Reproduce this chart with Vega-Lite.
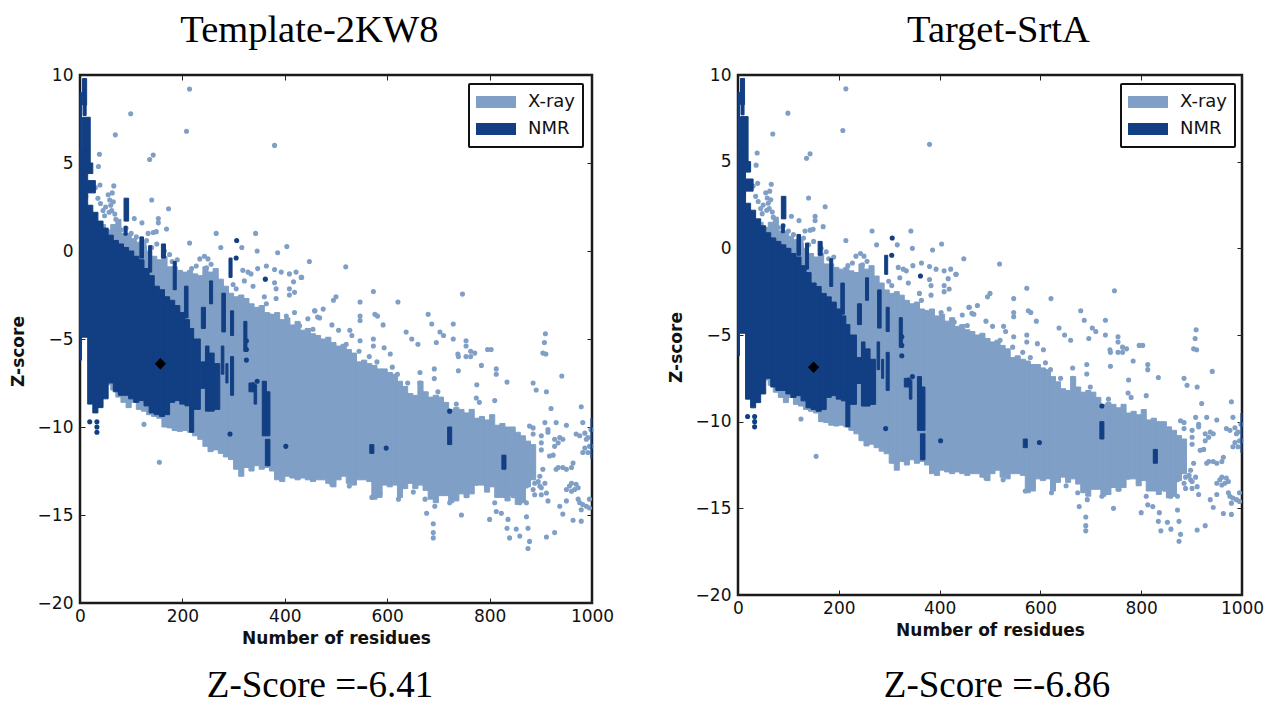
{"$schema":"https://vega.github.io/schema/vega-lite/v6.json","background":"white","padding":{"left":7,"top":11,"right":5,"bottom":2},"spacing":50,
"resolve":{"scale":{"color":"independent","stroke":"independent"},"legend":{"color":"independent"}},
"config":{"view":{"stroke":"#1a1a1a","strokeWidth":2.5},"font":"DejaVu Sans",
"axis":{"grid":false,"domain":false,"tickColor":"#222","tickSize":-5,"labelFontSize":17,"labelColor":"#111","labelPadding":12,"labelFlush":false,"format":"d","titleFontSize":17,"titleFontWeight":"bold","titleColor":"#111"},
"legend":{"orient":"none","fillColor":"white","strokeColor":"#111","strokeWidth":2,"padding":7,"cornerRadius":1,"labelFontSize":18,"labelColor":"#111","labelOffset":12,"title":null,"rowPadding":5,"clipHeight":22,"symbolStrokeWidth":0}},
"datasets":{
"bands":[
{"type":"X-ray","from":40,"to":50,"high":1.5,"low":-8},{"type":"X-ray","from":50,"to":60,"high":1.2,"low":-7.6},{"type":"X-ray","from":60,"to":70,"high":1.5,"low":-7.9},{"type":"X-ray","from":70,"to":80,"high":1.8,"low":-8.3},{"type":"X-ray","from":80,"to":90,"high":1,"low":-8.6},{"type":"X-ray","from":90,"to":100,"high":1,"low":-8.9},{"type":"X-ray","from":100,"to":110,"high":0.7,"low":-8.6},{"type":"X-ray","from":110,"to":120,"high":0.5,"low":-9},{"type":"X-ray","from":120,"to":130,"high":0.3,"low":-9.1},{"type":"X-ray","from":130,"to":140,"high":0,"low":-9.3},{"type":"X-ray","from":140,"to":150,"high":-0.3,"low":-9.4},{"type":"X-ray","from":150,"to":160,"high":-0.5,"low":-9.5},{"type":"X-ray","from":160,"to":170,"high":-0.3,"low":-10},{"type":"X-ray","from":170,"to":180,"high":-0.9,"low":-10.05},{"type":"X-ray","from":180,"to":190,"high":-0.9,"low":-10.2},{"type":"X-ray","from":190,"to":200,"high":-1.1,"low":-10.25},{"type":"X-ray","from":200,"to":210,"high":-1.2,"low":-10.2},{"type":"X-ray","from":210,"to":220,"high":-1.1,"low":-10.3},{"type":"X-ray","from":220,"to":230,"high":-1.3,"low":-10.5},{"type":"X-ray","from":230,"to":240,"high":-1.4,"low":-10.7},{"type":"X-ray","from":240,"to":250,"high":-0.9,"low":-11.1},{"type":"X-ray","from":250,"to":260,"high":-1.2,"low":-11.4},{"type":"X-ray","from":260,"to":270,"high":-1,"low":-11.3},{"type":"X-ray","from":270,"to":280,"high":-1.6,"low":-11.5},{"type":"X-ray","from":280,"to":290,"high":-2,"low":-11.7},{"type":"X-ray","from":290,"to":300,"high":-2.4,"low":-11.85},{"type":"X-ray","from":300,"to":310,"high":-2.6,"low":-12.4},{"type":"X-ray","from":310,"to":320,"high":-2.5,"low":-12.8},{"type":"X-ray","from":320,"to":330,"high":-2.7,"low":-12.3},{"type":"X-ray","from":330,"to":340,"high":-3,"low":-12.5},{"type":"X-ray","from":340,"to":350,"high":-3.2,"low":-12.2},{"type":"X-ray","from":350,"to":360,"high":-3.1,"low":-12.4},{"type":"X-ray","from":360,"to":370,"high":-3.5,"low":-12.3},{"type":"X-ray","from":370,"to":380,"high":-3.6,"low":-12.5},{"type":"X-ray","from":380,"to":390,"high":-3.5,"low":-13},{"type":"X-ray","from":390,"to":400,"high":-3.9,"low":-13.1},{"type":"X-ray","from":400,"to":410,"high":-3.8,"low":-12.8},{"type":"X-ray","from":410,"to":420,"high":-4.2,"low":-12.9},{"type":"X-ray","from":420,"to":430,"high":-4,"low":-13},{"type":"X-ray","from":430,"to":440,"high":-4.5,"low":-12.9},{"type":"X-ray","from":440,"to":450,"high":-4.4,"low":-13},{"type":"X-ray","from":450,"to":460,"high":-4.7,"low":-13.1},{"type":"X-ray","from":460,"to":470,"high":-4.8,"low":-13},{"type":"X-ray","from":470,"to":480,"high":-5,"low":-13},{"type":"X-ray","from":480,"to":490,"high":-4.9,"low":-13.2},{"type":"X-ray","from":490,"to":500,"high":-5.2,"low":-13.4},{"type":"X-ray","from":500,"to":510,"high":-5.4,"low":-13},{"type":"X-ray","from":510,"to":520,"high":-5.3,"low":-12.8},{"type":"X-ray","from":520,"to":530,"high":-5.6,"low":-13.2},{"type":"X-ray","from":530,"to":540,"high":-5.8,"low":-13.3},{"type":"X-ray","from":540,"to":550,"high":-6.3,"low":-13},{"type":"X-ray","from":550,"to":560,"high":-6.2,"low":-13},{"type":"X-ray","from":560,"to":570,"high":-6.4,"low":-13.1},{"type":"X-ray","from":570,"to":580,"high":-6.5,"low":-14.1},{"type":"X-ray","from":580,"to":590,"high":-6.7,"low":-14},{"type":"X-ray","from":590,"to":600,"high":-6.7,"low":-13.3},{"type":"X-ray","from":600,"to":610,"high":-6.9,"low":-13.4},{"type":"X-ray","from":610,"to":620,"high":-7,"low":-13.3},{"type":"X-ray","from":620,"to":630,"high":-7.4,"low":-14},{"type":"X-ray","from":630,"to":640,"high":-7.7,"low":-13.5},{"type":"X-ray","from":640,"to":650,"high":-8.1,"low":-13.2},{"type":"X-ray","from":650,"to":660,"high":-8.2,"low":-13.5},{"type":"X-ray","from":660,"to":670,"high":-7.4,"low":-13.3},{"type":"X-ray","from":670,"to":680,"high":-8,"low":-13.6},{"type":"X-ray","from":680,"to":690,"high":-8.3,"low":-14.1},{"type":"X-ray","from":690,"to":700,"high":-8.2,"low":-14.3},{"type":"X-ray","from":700,"to":710,"high":-8.3,"low":-13.9},{"type":"X-ray","from":710,"to":720,"high":-8.6,"low":-13.9},{"type":"X-ray","from":720,"to":730,"high":-9,"low":-14.3},{"type":"X-ray","from":730,"to":740,"high":-8.9,"low":-14.2},{"type":"X-ray","from":740,"to":750,"high":-9,"low":-13.8},{"type":"X-ray","from":750,"to":760,"high":-9.2,"low":-14},{"type":"X-ray","from":760,"to":770,"high":-9,"low":-13.8},{"type":"X-ray","from":770,"to":780,"high":-9.5,"low":-13.3},{"type":"X-ray","from":780,"to":790,"high":-9.4,"low":-13.3},{"type":"X-ray","from":790,"to":800,"high":-9.6,"low":-13.7},{"type":"X-ray","from":800,"to":810,"high":-9.3,"low":-13.4},{"type":"X-ray","from":810,"to":820,"high":-9.9,"low":-14},{"type":"X-ray","from":820,"to":830,"high":-9.8,"low":-14},{"type":"X-ray","from":830,"to":840,"high":-10,"low":-14.2},{"type":"X-ray","from":840,"to":850,"high":-10,"low":-13.9},{"type":"X-ray","from":850,"to":860,"high":-10.3,"low":-14.4},{"type":"X-ray","from":860,"to":870,"high":-10.5,"low":-14.3},{"type":"X-ray","from":870,"to":880,"high":-10.8,"low":-13.4},{"type":"X-ray","from":880,"to":890,"high":-11,"low":-13},
{"type":"NMR","from":0,"to":3,"high":9,"low":-6.2},{"type":"NMR","from":5,"to":13,"high":9.8,"low":8.3},{"type":"NMR","from":6,"to":12,"high":8.4,"low":7.7},{"type":"NMR","from":5,"to":20,"high":7.6,"low":5.8},{"type":"NMR","from":0,"to":20,"high":5.8,"low":4.4},{"type":"NMR","from":20,"to":25,"high":5,"low":4.4},{"type":"NMR","from":0,"to":15,"high":4.4,"low":3},{"type":"NMR","from":15,"to":30,"high":4,"low":3.3},{"type":"NMR","from":0,"to":15,"high":3.2,"low":-4.9},{"type":"NMR","from":15,"to":25,"high":2.6,"low":-8.7},{"type":"NMR","from":25,"to":35,"high":2.2,"low":-9.2},{"type":"NMR","from":35,"to":45,"high":1.7,"low":-8.9},{"type":"NMR","from":45,"to":55,"high":1.3,"low":-8.4},{"type":"NMR","from":55,"to":65,"high":0.9,"low":-7.5},{"type":"NMR","from":65,"to":75,"high":0.6,"low":-8},{"type":"NMR","from":75,"to":85,"high":0.4,"low":-8.2},{"type":"NMR","from":85,"to":95,"high":0.2,"low":-8.2},{"type":"NMR","from":95,"to":105,"high":0,"low":-8.4},{"type":"NMR","from":105,"to":115,"high":-0.3,"low":-8.6},{"type":"NMR","from":115,"to":125,"high":-0.5,"low":-8.5},{"type":"NMR","from":125,"to":135,"high":-1,"low":-8.8},{"type":"NMR","from":135,"to":145,"high":-1.4,"low":-9.2},{"type":"NMR","from":145,"to":155,"high":-2,"low":-9.3},{"type":"NMR","from":155,"to":165,"high":-2.2,"low":-9.4},{"type":"NMR","from":165,"to":175,"high":-2.6,"low":-9.3},{"type":"NMR","from":175,"to":185,"high":-2.8,"low":-8.6},{"type":"NMR","from":185,"to":195,"high":-3.1,"low":-8.5},{"type":"NMR","from":195,"to":205,"high":-3.5,"low":-8.7},{"type":"NMR","from":205,"to":214,"high":-3.9,"low":-8.8},{"type":"NMR","from":214,"to":222,"high":-4.4,"low":-10.3},{"type":"NMR","from":222,"to":235,"high":-5,"low":-9},
{"type":"NMR","from":86,"to":95,"high":3,"low":1.7},{"type":"NMR","from":86,"to":92,"high":1.4,"low":0.9},{"type":"NMR","from":117,"to":124,"high":0.8,"low":-0.4},{"type":"NMR","from":134,"to":140,"high":0.3,"low":-1.2},{"type":"NMR","from":159,"to":167,"high":0.4,"low":-0.4},{"type":"NMR","from":182,"to":188,"high":-0.6,"low":-2.2},{"type":"NMR","from":204,"to":211,"high":-2,"low":-3.8},{"type":"NMR","from":253,"to":259,"high":-1.7,"low":-3},{"type":"NMR","from":277,"to":284,"high":-2.4,"low":-4.6},{"type":"NMR","from":294,"to":300,"high":-3.4,"low":-4.8},{"type":"NMR","from":291,"to":297,"high":-0.4,"low":-1.5},{"type":"NMR","from":237,"to":245,"high":-3.2,"low":-4.4},{"type":"NMR","from":320,"to":326,"high":-4,"low":-5.7},
{"type":"NMR","from":245,"to":252,"high":-5.4,"low":-9.1},{"type":"NMR","from":252,"to":262,"high":-5.8,"low":-9.1},{"type":"NMR","from":262,"to":273,"high":-6.4,"low":-9},{"type":"NMR","from":236,"to":245,"high":-6.3,"low":-7.8},{"type":"NMR","from":276,"to":281,"high":-5.4,"low":-7},{"type":"NMR","from":285,"to":289,"high":-6.4,"low":-7.5},{"type":"NMR","from":294,"to":300,"high":-6,"low":-8.2},{"type":"NMR","from":330,"to":340,"high":-7.5,"low":-8},{"type":"NMR","from":340,"to":345,"high":-7.6,"low":-8.7},{"type":"NMR","from":356,"to":364,"high":-7.4,"low":-10.5},{"type":"NMR","from":364,"to":371,"high":-8,"low":-10.5},{"type":"NMR","from":362,"to":371,"high":-10.7,"low":-12.2},{"type":"NMR","from":566,"to":574,"high":-11,"low":-11.5},{"type":"NMR","from":718,"to":726,"high":-10,"low":-11},{"type":"NMR","from":824,"to":832,"high":-11.6,"low":-12.4},{"type":"NMR","from":998,"to":1000,"high":-9.5,"low":-11.8}
],
"dots":[
{"type":"X-ray","x":214,"z":9.2},{"type":"X-ray","x":99,"z":7.8},{"type":"X-ray","x":69,"z":6.6},{"type":"X-ray","x":208,"z":6.8},{"type":"X-ray","x":380,"z":6},{"type":"X-ray","x":38,"z":5.5},{"type":"X-ray","x":143,"z":5.45},{"type":"X-ray","x":136,"z":5.2},{"type":"X-ray","x":36,"z":4.8},{"type":"X-ray","x":66,"z":3.7},{"type":"X-ray","x":39,"z":3.75},{"type":"X-ray","x":140,"z":2.9},{"type":"X-ray","x":173,"z":2.4},{"type":"X-ray","x":106,"z":1.85},{"type":"X-ray","x":121,"z":1.6},{"type":"X-ray","x":153,"z":1.85},{"type":"X-ray","x":153,"z":1.6},{"type":"X-ray","x":169,"z":1.25},{"type":"X-ray","x":149,"z":1.1},{"type":"X-ray","x":133,"z":1},{"type":"X-ray","x":143,"z":1.05},{"type":"X-ray","x":266,"z":1},{"type":"X-ray","x":343,"z":1},{"type":"X-ray","x":214,"z":0.45},{"type":"X-ray","x":275,"z":0.2},{"type":"X-ray","x":316,"z":0.2},{"type":"X-ray","x":346,"z":0},{"type":"X-ray","x":404,"z":0.25},{"type":"X-ray","x":386,"z":-0.1},{"type":"X-ray","x":448,"z":-0.6},
{"type":"X-ray","x":55,"z":3.2},{"type":"X-ray","x":58,"z":2.9},{"type":"X-ray","x":60,"z":2.6},{"type":"X-ray","x":62,"z":2.3},{"type":"X-ray","x":65,"z":2.8},{"type":"X-ray","x":68,"z":2.1},{"type":"X-ray","x":70,"z":1.8},{"type":"X-ray","x":57,"z":2.2},{"type":"X-ray","x":63,"z":3.3},{"type":"X-ray","x":30,"z":3.6},{"type":"X-ray","x":35,"z":3},{"type":"X-ray","x":40,"z":2.7},{"type":"X-ray","x":45,"z":2.3},{"type":"X-ray","x":50,"z":2.5},{"type":"X-ray","x":48,"z":2},{"type":"X-ray","x":75,"z":1.5},{"type":"X-ray","x":80,"z":1.2},{"type":"X-ray","x":90,"z":1.3},{"type":"X-ray","x":100,"z":1},{"type":"X-ray","x":110,"z":0.8},{"type":"X-ray","x":115,"z":0.3},{"type":"X-ray","x":125,"z":0.4},{"type":"X-ray","x":130,"z":0.6},{"type":"X-ray","x":140,"z":0.2},{"type":"X-ray","x":150,"z":0.4},{"type":"X-ray","x":165,"z":0},{"type":"X-ray","x":175,"z":-0.2},{"type":"X-ray","x":180,"z":-0.6},{"type":"X-ray","x":190,"z":-0.5},
{"type":"X-ray","x":234,"z":-0.45},{"type":"X-ray","x":243,"z":-0.3},{"type":"X-ray","x":250,"z":-0.45},{"type":"X-ray","x":256,"z":-0.75},{"type":"X-ray","x":247,"z":-0.95},{"type":"X-ray","x":227,"z":-0.85},{"type":"X-ray","x":218,"z":-1},{"type":"X-ray","x":318,"z":-1.1},{"type":"X-ray","x":328,"z":-1.2},{"type":"X-ray","x":334,"z":-1.3},{"type":"X-ray","x":347,"z":-1},{"type":"X-ray","x":364,"z":-0.85},{"type":"X-ray","x":380,"z":-1.05},{"type":"X-ray","x":393,"z":-1.2},{"type":"X-ray","x":409,"z":-1.3},{"type":"X-ray","x":422,"z":-1.2},{"type":"X-ray","x":432,"z":-1.5},{"type":"X-ray","x":417,"z":-1.75},{"type":"X-ray","x":380,"z":-1.8},{"type":"X-ray","x":383,"z":-2.15},{"type":"X-ray","x":409,"z":-2.15},{"type":"X-ray","x":419,"z":-2.35},{"type":"X-ray","x":383,"z":-2.7},{"type":"X-ray","x":360,"z":-2.6},{"type":"X-ray","x":364,"z":-3},{"type":"X-ray","x":338,"z":-2},{"type":"X-ray","x":321,"z":-1.7},{"type":"X-ray","x":299,"z":-1.9},{"type":"X-ray","x":305,"z":-2.15},{"type":"X-ray","x":409,"z":-2.5},{"type":"X-ray","x":458,"z":-3.4},{"type":"X-ray","x":464,"z":-3.75},{"type":"X-ray","x":445,"z":-3.85},{"type":"X-ray","x":419,"z":-3.5},{"type":"X-ray","x":403,"z":-3.7},{"type":"X-ray","x":390,"z":-4.05},{"type":"X-ray","x":373,"z":-3.7},{"type":"X-ray","x":429,"z":-4.25},{"type":"X-ray","x":455,"z":-4.45},
{"type":"X-ray","x":519,"z":-0.9},{"type":"X-ray","x":433,"z":-1.5},{"type":"X-ray","x":573,"z":-2.3},{"type":"X-ray","x":747,"z":-2.45},{"type":"X-ray","x":621,"z":-2.9},{"type":"X-ray","x":547,"z":-2.9},{"type":"X-ray","x":495,"z":-2.8},{"type":"X-ray","x":500,"z":-2.6},{"type":"X-ray","x":680,"z":-3.6},{"type":"X-ray","x":547,"z":-3.7},{"type":"X-ray","x":547,"z":-3.95},{"type":"X-ray","x":576,"z":-3.6},{"type":"X-ray","x":581,"z":-3.7},{"type":"X-ray","x":729,"z":-4.15},{"type":"X-ray","x":687,"z":-4.15},{"type":"X-ray","x":637,"z":-4.6},{"type":"X-ray","x":592,"z":-4.2},{"type":"X-ray","x":703,"z":-4.6},{"type":"X-ray","x":710,"z":-4.8},{"type":"X-ray","x":729,"z":-5},{"type":"X-ray","x":754,"z":-5.1},{"type":"X-ray","x":648,"z":-5},{"type":"X-ray","x":660,"z":-5.3},{"type":"X-ray","x":696,"z":-5.2},{"type":"X-ray","x":909,"z":-4.7},{"type":"X-ray","x":907,"z":-5.2},{"type":"X-ray","x":904,"z":-5.8},{"type":"X-ray","x":910,"z":-5.85},{"type":"X-ray","x":796,"z":-5.6},{"type":"X-ray","x":763,"z":-5.7},{"type":"X-ray","x":763,"z":-6},{"type":"X-ray","x":754,"z":-5.4},{"type":"X-ray","x":738,"z":-5.85},{"type":"X-ray","x":606,"z":-5.85},{"type":"X-ray","x":573,"z":-5.4},{"type":"X-ray","x":573,"z":-5},{"type":"X-ray","x":594,"z":-5.5},{"type":"X-ray","x":459,"z":-3.4},{"type":"X-ray","x":475,"z":-3.3},{"type":"X-ray","x":468,"z":-3.8},{"type":"X-ray","x":492,"z":-4.2},{"type":"X-ray","x":505,"z":-4.5},{"type":"X-ray","x":527,"z":-4.5},{"type":"X-ray","x":531,"z":-4.8},{"type":"X-ray","x":547,"z":-5.1},{"type":"X-ray","x":520,"z":-5.3},{"type":"X-ray","x":545,"z":-5.7},{"type":"X-ray","x":565,"z":-6},{"type":"X-ray","x":580,"z":-6.3},{"type":"X-ray","x":610,"z":-6.6},{"type":"X-ray","x":620,"z":-7},{"type":"X-ray","x":640,"z":-7.5},
{"type":"X-ray","x":692,"z":-6.7},{"type":"X-ray","x":692,"z":-7.25},{"type":"X-ray","x":739,"z":-6.8},{"type":"X-ray","x":739,"z":-6},{"type":"X-ray","x":754,"z":-6},{"type":"X-ray","x":771,"z":-5.8},{"type":"X-ray","x":803,"z":-5.6},{"type":"X-ray","x":813,"z":-6.7},{"type":"X-ray","x":813,"z":-7},{"type":"X-ray","x":784,"z":-6.5},{"type":"X-ray","x":834,"z":-7.45},{"type":"X-ray","x":775,"z":-7.6},{"type":"X-ray","x":941,"z":-7.1},{"type":"X-ray","x":885,"z":-7.5},{"type":"X-ray","x":891,"z":-7.9},{"type":"X-ray","x":911,"z":-8},{"type":"X-ray","x":920,"z":-8.95},{"type":"X-ray","x":979,"z":-8.85},{"type":"X-ray","x":810,"z":-8.5},{"type":"X-ray","x":774,"z":-8.35},{"type":"X-ray","x":780,"z":-8.6},{"type":"X-ray","x":735,"z":-8.7},{"type":"X-ray","x":699,"z":-8},{"type":"X-ray","x":664,"z":-6.9},{"type":"X-ray","x":664,"z":-7.5},
{"type":"X-ray","x":885,"z":-10.05},{"type":"X-ray","x":901,"z":-10.5},{"type":"X-ray","x":914,"z":-10.15},{"type":"X-ray","x":930,"z":-9.75},{"type":"X-ray","x":950,"z":-9.9},{"type":"X-ray","x":982,"z":-9.75},{"type":"X-ray","x":908,"z":-9.75},{"type":"X-ray","x":924,"z":-11.6},{"type":"X-ray","x":934,"z":-10.9},{"type":"X-ray","x":943,"z":-10.7},{"type":"X-ray","x":969,"z":-10.4},{"type":"X-ray","x":989,"z":-10.7},{"type":"X-ray","x":995,"z":-11.1},{"type":"X-ray","x":982,"z":-11.45},{"type":"X-ray","x":963,"z":-12.05},{"type":"X-ray","x":930,"z":-12.4},{"type":"X-ray","x":950,"z":-12.4},{"type":"X-ray","x":898,"z":-12.8},{"type":"X-ray","x":885,"z":-12.2},{"type":"X-ray","x":878,"z":-11.6},{"type":"X-ray","x":872,"z":-13},{"type":"X-ray","x":885,"z":-13.55},{"type":"X-ray","x":898,"z":-13.35},{"type":"X-ray","x":911,"z":-13.75},{"type":"X-ray","x":956,"z":-13.35},{"type":"X-ray","x":969,"z":-13.25},{"type":"X-ray","x":950,"z":-13.55},{"type":"X-ray","x":937,"z":-14.5},{"type":"X-ray","x":914,"z":-14.2},{"type":"X-ray","x":950,"z":-14.2},{"type":"X-ray","x":976,"z":-14.3},{"type":"X-ray","x":989,"z":-14.5},{"type":"X-ray","x":979,"z":-15.35},{"type":"X-ray","x":963,"z":-15.3},{"type":"X-ray","x":943,"z":-14.95},{"type":"X-ray","x":927,"z":-16},{"type":"X-ray","x":911,"z":-16.25},{"type":"X-ray","x":875,"z":-16.9},{"type":"X-ray","x":878,"z":-16.5},{"type":"X-ray","x":859,"z":-16.2},{"type":"X-ray","x":839,"z":-16.3},{"type":"X-ray","x":834,"z":-15.75},{"type":"X-ray","x":852,"z":-15.8},{"type":"X-ray","x":875,"z":-15.75},{"type":"X-ray","x":872,"z":-15.1},{"type":"X-ray","x":836,"z":-15.25},{"type":"X-ray","x":823,"z":-14.9},{"type":"X-ray","x":800,"z":-15.25},{"type":"X-ray","x":813,"z":-14.8},{"type":"X-ray","x":810,"z":-14.3},{"type":"X-ray","x":745,"z":-15},{"type":"X-ray","x":690,"z":-15.5},{"type":"X-ray","x":690,"z":-16},{"type":"X-ray","x":690,"z":-16.3},{"type":"X-ray","x":677,"z":-14.9},{"type":"X-ray","x":693,"z":-14.5},{"type":"X-ray","x":674,"z":-14.1},{"type":"X-ray","x":570,"z":-14},{"type":"X-ray","x":586,"z":-13.75},{"type":"X-ray","x":622,"z":-14.1},{"type":"X-ray","x":651,"z":-13.7},{"type":"X-ray","x":526,"z":-13.35},{"type":"X-ray","x":492,"z":-13.25},{"type":"X-ray","x":859,"z":-14.3},{"type":"X-ray","x":846,"z":-13.9},{"type":"X-ray","x":826,"z":-13.55},{"type":"X-ray","x":774,"z":-13.2},{"type":"X-ray","x":755,"z":-13.9},{"type":"X-ray","x":722,"z":-14.3},{"type":"X-ray","x":709,"z":-13.75},{"type":"X-ray","x":125,"z":-9.85},{"type":"X-ray","x":155,"z":-12},
{"type":"X-ray","x":888,"z":-13.2},{"type":"X-ray","x":895,"z":-13.1},{"type":"X-ray","x":901,"z":-13.45},{"type":"X-ray","x":908,"z":-13.2},{"type":"X-ray","x":888,"z":-13.85},{"type":"X-ray","x":901,"z":-13.85},{"type":"X-ray","x":960,"z":-13.2},{"type":"X-ray","x":966,"z":-13.55},{"type":"X-ray","x":960,"z":-13.65},{"type":"X-ray","x":973,"z":-13.45},{"type":"X-ray","x":927,"z":-10.7},{"type":"X-ray","x":937,"z":-10.6},{"type":"X-ray","x":927,"z":-11.1},{"type":"X-ray","x":986,"z":-10.35},{"type":"X-ray","x":992,"z":-10.6},{"type":"X-ray","x":992,"z":-11.45},{"type":"X-ray","x":986,"z":-11.2},{"type":"X-ray","x":976,"z":-10.5},{"type":"X-ray","x":998,"z":-10.15},{"type":"X-ray","x":998,"z":-11.1},{"type":"X-ray","x":973,"z":-14.1},{"type":"X-ray","x":982,"z":-14.4},{"type":"X-ray","x":979,"z":-14.7},{"type":"X-ray","x":995,"z":-14.6},{"type":"X-ray","x":995,"z":-14.1},{"type":"X-ray","x":934,"z":-12.3},{"type":"X-ray","x":943,"z":-12.3},{"type":"X-ray","x":960,"z":-12.3},{"type":"X-ray","x":878,"z":-9.95},{"type":"X-ray","x":885,"z":-10.4},{"type":"X-ray","x":901,"z":-10.9},{"type":"X-ray","x":901,"z":-11.3},{"type":"X-ray","x":914,"z":-10.3},{"type":"X-ray","x":917,"z":-11.65},{"type":"X-ray","x":878,"z":-12.4},{"type":"X-ray","x":885,"z":-12.6},{"type":"X-ray","x":872,"z":-13.35},{"type":"X-ray","x":859,"z":-13.9},{"type":"X-ray","x":872,"z":-14.3},{"type":"X-ray","x":904,"z":-12.4},
{"type":"NMR","x":306,"z":0.6},{"type":"NMR","x":305,"z":-0.4},{"type":"NMR","x":362,"z":-1.6},{"type":"NMR","x":325,"z":-5.1},{"type":"NMR","x":325,"z":-5.6},{"type":"NMR","x":325,"z":-6.2},{"type":"NMR","x":293,"z":-10.4},{"type":"NMR","x":402,"z":-11.1},{"type":"NMR","x":19,"z":-9.7},{"type":"NMR","x":33,"z":-9.7},{"type":"NMR","x":33,"z":-10},{"type":"NMR","x":33,"z":-10.3},{"type":"NMR","x":598,"z":-11.2},{"type":"NMR","x":722,"z":-9.1},{"type":"NMR","x":346,"z":-7.4},{"type":"NMR","x":338,"z":-7.6}
]},
"hconcat":[
{"title":{"text":"Template-2KW8","font":"Liberation Serif","fontSize":38.5,"fontWeight":"normal","color":"#000","anchor":"middle","dx":-2,"offset":14},
"vconcat":[{"width":512,"height":528,
"title":{"text":"Z-Score =-6.41","orient":"bottom","font":"Liberation Serif","fontSize":37,"fontWeight":"normal","color":"#000","anchor":"middle","dx":-16,"offset":22},
"resolve":{"axis":{"x":"independent","y":"independent"}},
"layer":[
{"data":{"name":"bands"},"transform":[{"filter":"datum.type === 'X-ray'"}],"mark":{"type":"rect","binSpacing":0,"strokeWidth":1},"encoding":{"x":{"field":"from","type":"quantitative","scale":{"domain":[0,1000],"nice":false},"axis":{"values":[0,200,400,600,800,1000],"title":"Number of residues","titlePadding":6,"labelPadding":10}},"x2":{"field":"to"},"y":{"field":"high","type":"quantitative","scale":{"domain":[-20,10],"nice":false},"axis":{"values":[-20,-15,-10,-5,0,5,10],"title":"Z-score","titlePadding":10,"titleY":276}},"y2":{"field":"low"},"color":{"field":"type","type":"nominal","scale":{"domain":["X-ray","NMR"],"range":["#7f9fc6","#123f83"]},"legend":{"legendX":389,"legendY":9,"symbolType":"M-1,-0.3H1V0.3H-1Z","symbolSize":1600}},"stroke":{"field":"type","type":"nominal","scale":{"domain":["X-ray","NMR"],"range":["#7f9fc6","#123f83"]},"legend":null}}},
{"data":{"name":"dots"},"transform":[{"filter":"datum.type === 'X-ray'"}],"mark":{"type":"point","filled":true,"shape":"circle","size":26,"opacity":1},"encoding":{"x":{"field":"x","type":"quantitative","axis":null},"y":{"field":"z","type":"quantitative","axis":null},"color":{"field":"type","type":"nominal","legend":null}}},
{"data":{"name":"bands"},"transform":[{"filter":"datum.type === 'NMR'"}],"mark":{"type":"rect","binSpacing":0,"strokeWidth":1},"encoding":{"x":{"field":"from","type":"quantitative","axis":null},"x2":{"field":"to"},"y":{"field":"high","type":"quantitative","axis":null},"y2":{"field":"low"},"color":{"field":"type","type":"nominal","legend":null},"stroke":{"field":"type","type":"nominal","legend":null}}},
{"data":{"name":"dots"},"transform":[{"filter":"datum.type === 'NMR'"}],"mark":{"type":"point","filled":true,"shape":"circle","size":26,"opacity":1},"encoding":{"x":{"field":"x","type":"quantitative","axis":null},"y":{"field":"z","type":"quantitative","axis":null},"color":{"field":"type","type":"nominal","legend":null}}},
{"data":{"values":[{"x":157,"z":-6.41}]},"mark":{"type":"point","filled":true,"shape":"diamond","size":130,"color":"#000","opacity":1},"encoding":{"x":{"field":"x","type":"quantitative","axis":{"orient":"top","labels":false,"title":null,"values":[0,200,400,600,800,1000]}},"y":{"field":"z","type":"quantitative","axis":{"orient":"right","labels":false,"title":null,"values":[-20,-15,-10,-5,0,5,10]}}}}
]}]},
{"title":{"text":"Target-SrtA","font":"Liberation Serif","fontSize":38.5,"fontWeight":"normal","color":"#000","anchor":"middle","dx":33,"offset":14},
"vconcat":[{"width":504,"height":520,
"title":{"text":"Z-Score =-6.86","orient":"bottom","font":"Liberation Serif","fontSize":37,"fontWeight":"normal","color":"#000","anchor":"middle","dx":7,"offset":30},
"resolve":{"axis":{"x":"independent","y":"independent"}},
"layer":[
{"data":{"name":"bands"},"transform":[{"filter":"datum.type === 'X-ray'"}],"mark":{"type":"rect","binSpacing":0,"strokeWidth":1},"encoding":{"x":{"field":"from","type":"quantitative","scale":{"domain":[0,1000],"nice":false},"axis":{"values":[0,200,400,600,800,1000],"title":"Number of residues","titlePadding":6,"labelPadding":10}},"x2":{"field":"to"},"y":{"field":"high","type":"quantitative","scale":{"domain":[-20,10],"nice":false},"axis":{"values":[-20,-15,-10,-5,0,5,10],"title":"Z-score","titlePadding":10,"titleY":272}},"y2":{"field":"low"},"color":{"field":"type","type":"nominal","scale":{"domain":["X-ray","NMR"],"range":["#7f9fc6","#123f83"]},"legend":{"legendX":383,"legendY":9,"symbolType":"M-1,-0.3H1V0.3H-1Z","symbolSize":1600}},"stroke":{"field":"type","type":"nominal","scale":{"domain":["X-ray","NMR"],"range":["#7f9fc6","#123f83"]},"legend":null}}},
{"data":{"name":"dots"},"transform":[{"filter":"datum.type === 'X-ray'"}],"mark":{"type":"point","filled":true,"shape":"circle","size":26,"opacity":1},"encoding":{"x":{"field":"x","type":"quantitative","axis":null},"y":{"field":"z","type":"quantitative","axis":null},"color":{"field":"type","type":"nominal","legend":null}}},
{"data":{"name":"bands"},"transform":[{"filter":"datum.type === 'NMR'"}],"mark":{"type":"rect","binSpacing":0,"strokeWidth":1},"encoding":{"x":{"field":"from","type":"quantitative","axis":null},"x2":{"field":"to"},"y":{"field":"high","type":"quantitative","axis":null},"y2":{"field":"low"},"color":{"field":"type","type":"nominal","legend":null},"stroke":{"field":"type","type":"nominal","legend":null}}},
{"data":{"name":"dots"},"transform":[{"filter":"datum.type === 'NMR'"}],"mark":{"type":"point","filled":true,"shape":"circle","size":26,"opacity":1},"encoding":{"x":{"field":"x","type":"quantitative","axis":null},"y":{"field":"z","type":"quantitative","axis":null},"color":{"field":"type","type":"nominal","legend":null}}},
{"data":{"values":[{"x":150,"z":-6.86}]},"mark":{"type":"point","filled":true,"shape":"diamond","size":130,"color":"#000","opacity":1},"encoding":{"x":{"field":"x","type":"quantitative","axis":{"orient":"top","labels":false,"title":null,"values":[0,200,400,600,800,1000]}},"y":{"field":"z","type":"quantitative","axis":{"orient":"right","labels":false,"title":null,"values":[-20,-15,-10,-5,0,5,10]}}}}
]}]}
]}
